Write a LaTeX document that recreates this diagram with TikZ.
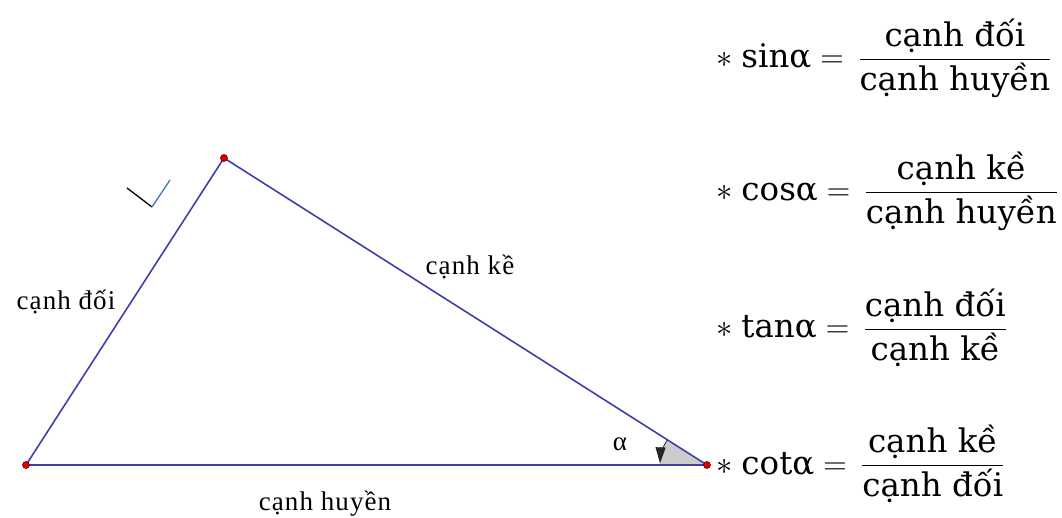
\RequirePackage{fix-cm}
\documentclass[tikz,border=0pt]{standalone}
\usepackage{amsmath}
\usepackage{fontspec}
\setmainfont{Liberation Serif}[LetterSpace=4]
\newfontfamily\formulafont{DejaVu Serif}
\usetikzlibrary{calc,arrows.meta}

\definecolor{edgeblue}{RGB}{62,62,176}
\definecolor{dotred}{RGB}{225,0,0}
\definecolor{markblue}{RGB}{60,120,200}

\tikzset{
  edge/.style={edgeblue, line width=1.6pt},
  vertex/.style={fill=dotred, draw=red!40!black, line width=0.6pt},
  sidelabel/.style={font=\fontsize{27}{32}\selectfont},
  formula/.style={anchor=base west, inner sep=0pt, font=\formulafont\fontsize{32.5}{39}\selectfont}
}

\begin{document}
\begin{tikzpicture}[x=1pt,y=1pt]
  \useasboundingbox (0,0) rectangle (1062,517);

  % Vertices
  \coordinate (A) at (26,52);
  \coordinate (B) at (224,359);
  \coordinate (C) at (707,52);

  % Angle at C
  \fill[gray!40] (C) -- ($(C)+(147.6:47)$) arc (147.6:180:47) -- cycle;
  \draw[-{Triangle[length=16pt,width=10pt]}, gray!30!black, line width=0.8pt]
    ($(C)+(147.6:47)$) arc (147.6:178:47);

  % Triangle
  \draw[edge] (A) -- (B) -- (C) -- cycle;

  % Right angle mark
  \coordinate (R1) at (127,329);
  \coordinate (R2) at (152,310);
  \coordinate (R3) at (170,337);
  \draw[black, line width=1.3pt] (R1) -- (R2);
  \draw[markblue, line width=1.3pt] (R2) -- (R3);

  % Points
  \filldraw[vertex] (A) circle (3.5pt);
  \filldraw[vertex] (B) circle (3.5pt);
  \filldraw[vertex] (C) circle (3.5pt);

  % Labels
  \node[sidelabel] (opp) at (66,215) {cạnh đối};
  \node[sidelabel] (adj) at (470,250) {cạnh kề};
  \node[sidelabel] (hyp) at (325,13) {cạnh huyền};
  \node[sidelabel] (alpha) at (620,73) {α};

  % Formulas
  \node[formula] (sin) at (716,449)
    {$\ast\;\text{sinα} = \,\dfrac{\text{cạnh đối}}{\text{cạnh huyền}}$};
  \node[formula] (cos) at (716,316)
    {$\ast\;\text{cosα} = \,\dfrac{\text{cạnh kề}}{\text{cạnh huyền}}$};
  \node[formula] (tan) at (716,179)
    {$\ast\;\text{tanα} = \,\dfrac{\text{cạnh đối}}{\text{cạnh kề}}$};
  \node[formula] (cot) at (716,43)
    {$\ast\;\text{cotα} = \,\dfrac{\text{cạnh kề}}{\text{cạnh đối}}$};
\end{tikzpicture}
\end{document}
